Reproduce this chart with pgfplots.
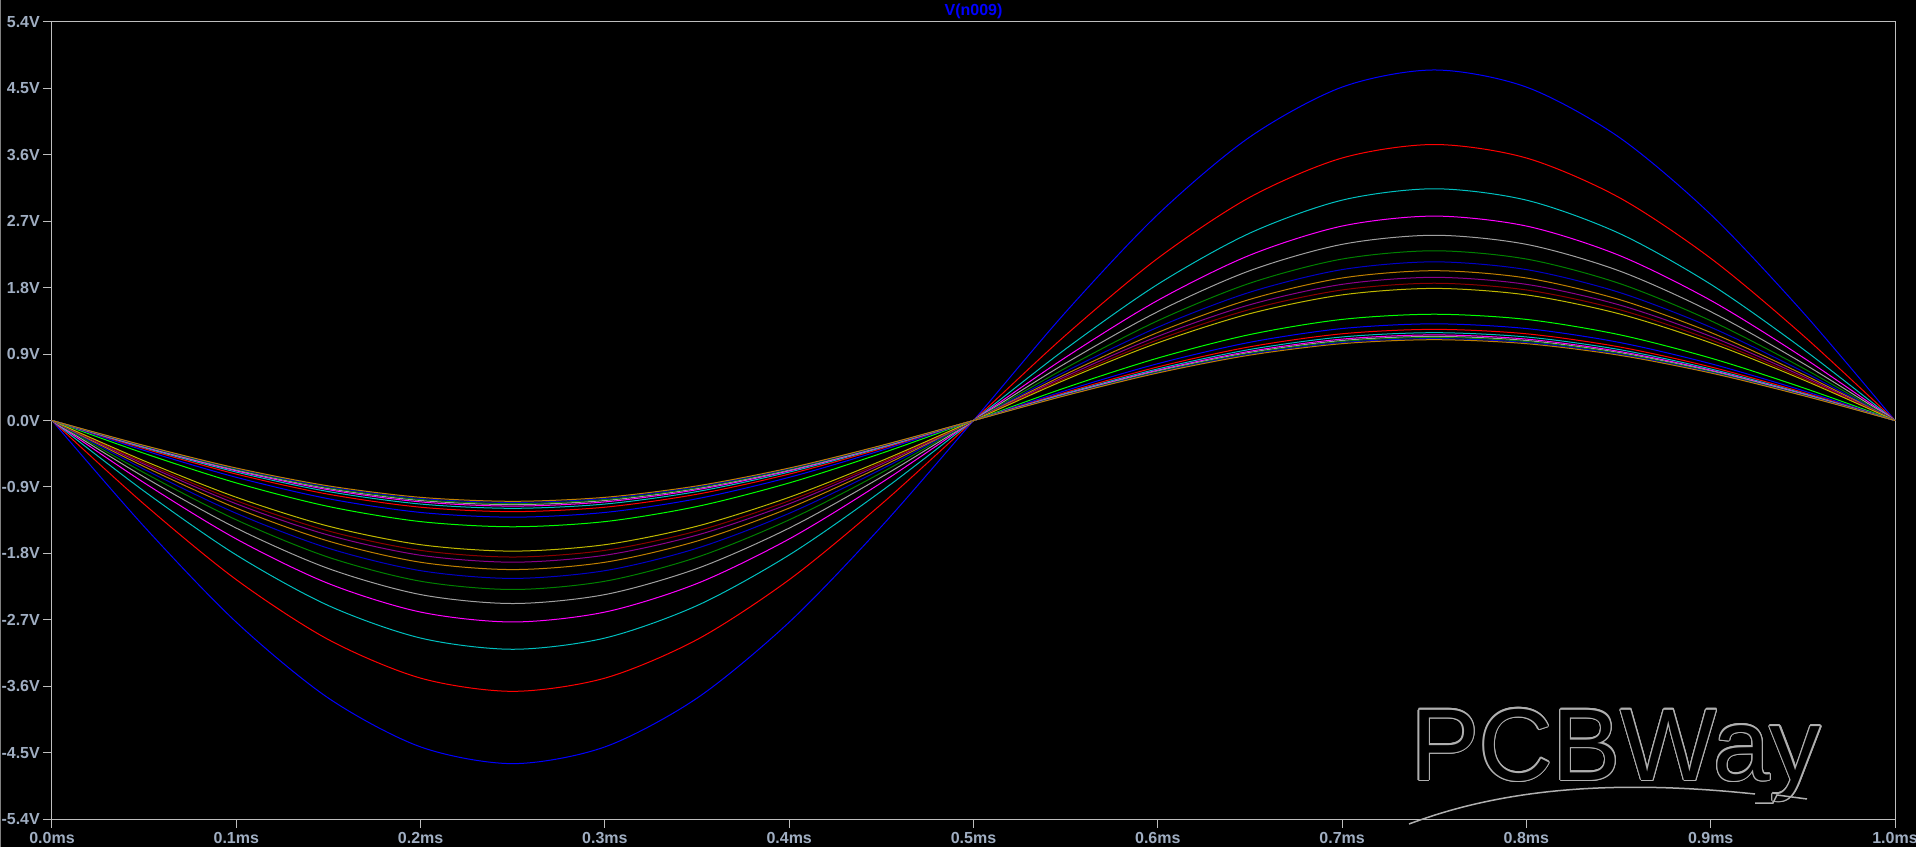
\documentclass[border=0pt]{standalone}
\usepackage{fontspec}
\setmainfont{Liberation Sans}[BoldFont={Liberation Sans Bold}]
\newfontfamily\lblfont{Liberation Sans Bold}
\usepackage{pgfplots}
\usepackage{pgfplotstable}
\usepackage{contour}
\pgfplotsset{compat=1.18}

\definecolor{axisgray}{RGB}{190,190,190}
\definecolor{labelcol}{RGB}{160,174,194}
\definecolor{wmgray}{RGB}{175,175,175}
% LTspice step colours, cycling every 12
\definecolor{col1}{RGB}{0,0,255}
\definecolor{col2}{RGB}{255,0,0}
\definecolor{col3}{RGB}{0,192,192}
\definecolor{col4}{RGB}{255,0,255}
\definecolor{col5}{RGB}{160,160,160}
\definecolor{col6}{RGB}{0,128,0}
\definecolor{col7}{RGB}{0,0,200}
\definecolor{col8}{RGB}{192,128,0}
\definecolor{col9}{RGB}{140,0,140}
\definecolor{col10}{RGB}{140,0,0}
\definecolor{col11}{RGB}{192,184,0}
\definecolor{col12}{RGB}{0,255,0}
\colorlet{col13}{col1}
\colorlet{col14}{col2}
\colorlet{col15}{col3}
\colorlet{col16}{col4}
\colorlet{col17}{col5}
\colorlet{col18}{col6}
\colorlet{col19}{col7}
\colorlet{col20}{col8}

% V(n009) for the 20 stepped runs, t in ms
\pgfplotstableread{
t c1 c2 c3 c4 c5 c6 c7 c8 c9 c10 c11 c12 c13 c14 c15 c16 c17 c18 c19 c20
0.00 0 0 0 0 0 0 0 0 0 0 0 0 0 0 0 0 0 0 0 0
0.05 -1.437 -1.134 -0.958 -0.844 -0.766 -0.708 -0.661 -0.624 -0.593 -0.572 -0.547 -0.445 -0.405 -0.382 -0.368 -0.358 -0.352 -0.348 -0.343 -0.338
0.10 -2.733 -2.157 -1.822 -1.605 -1.458 -1.346 -1.258 -1.187 -1.129 -1.087 -1.040 -0.846 -0.770 -0.726 -0.699 -0.682 -0.670 -0.661 -0.652 -0.644
0.15 -3.762 -2.969 -2.508 -2.209 -2.006 -1.853 -1.731 -1.634 -1.553 -1.497 -1.432 -1.165 -1.060 -0.999 -0.963 -0.938 -0.922 -0.910 -0.898 -0.886
0.20 -4.423 -3.491 -2.948 -2.596 -2.359 -2.178 -2.035 -1.921 -1.826 -1.760 -1.683 -1.370 -1.246 -1.175 -1.132 -1.103 -1.084 -1.070 -1.056 -1.041
0.25 -4.650 -3.670 -3.100 -2.730 -2.480 -2.290 -2.140 -2.020 -1.920 -1.850 -1.770 -1.440 -1.310 -1.235 -1.190 -1.160 -1.140 -1.125 -1.110 -1.095
0.30 -4.423 -3.491 -2.948 -2.596 -2.359 -2.178 -2.035 -1.921 -1.826 -1.760 -1.683 -1.370 -1.246 -1.175 -1.132 -1.103 -1.084 -1.070 -1.056 -1.041
0.35 -3.762 -2.969 -2.508 -2.209 -2.006 -1.853 -1.731 -1.634 -1.553 -1.497 -1.432 -1.165 -1.060 -0.999 -0.963 -0.938 -0.922 -0.910 -0.898 -0.886
0.40 -2.733 -2.157 -1.822 -1.605 -1.458 -1.346 -1.258 -1.187 -1.129 -1.087 -1.040 -0.846 -0.770 -0.726 -0.699 -0.682 -0.670 -0.661 -0.652 -0.644
0.45 -1.437 -1.134 -0.958 -0.844 -0.766 -0.708 -0.661 -0.624 -0.593 -0.572 -0.547 -0.445 -0.405 -0.382 -0.368 -0.358 -0.352 -0.348 -0.343 -0.338
0.50 0 0 0 0 0 0 0 0 0 0 0 0 0 0 0 0 0 0 0 0
0.55 1.468 1.156 0.970 0.856 0.776 0.711 0.664 0.627 0.599 0.575 0.553 0.445 0.405 0.382 0.368 0.358 0.352 0.348 0.343 0.338
0.60 2.792 2.198 1.846 1.628 1.475 1.352 1.264 1.193 1.140 1.093 1.052 0.846 0.770 0.726 0.699 0.682 0.670 0.661 0.652 0.644
0.65 3.843 3.026 2.540 2.241 2.031 1.861 1.739 1.642 1.569 1.505 1.448 1.165 1.060 0.999 0.963 0.938 0.922 0.910 0.898 0.886
0.70 4.518 3.557 2.986 2.635 2.387 2.188 2.045 1.931 1.845 1.769 1.702 1.370 1.246 1.175 1.132 1.103 1.084 1.070 1.056 1.041
0.75 4.750 3.740 3.140 2.770 2.510 2.300 2.150 2.030 1.940 1.860 1.790 1.440 1.310 1.235 1.190 1.160 1.140 1.125 1.110 1.095
0.80 4.518 3.557 2.986 2.635 2.387 2.188 2.045 1.931 1.845 1.769 1.702 1.370 1.246 1.175 1.132 1.103 1.084 1.070 1.056 1.041
0.85 3.843 3.026 2.540 2.241 2.031 1.861 1.739 1.642 1.569 1.505 1.448 1.165 1.060 0.999 0.963 0.938 0.922 0.910 0.898 0.886
0.90 2.792 2.198 1.846 1.628 1.475 1.352 1.264 1.193 1.140 1.093 1.052 0.846 0.770 0.726 0.699 0.682 0.670 0.661 0.652 0.644
0.95 1.468 1.156 0.970 0.856 0.776 0.711 0.664 0.627 0.599 0.575 0.553 0.445 0.405 0.382 0.368 0.358 0.352 0.348 0.343 0.338
1.00 0 0 0 0 0 0 0 0 0 0 0 0 0 0 0 0 0 0 0 0
}\datatable

\begin{document}
\begin{tikzpicture}
\path[use as bounding box, fill=black] (-52pt,-28pt) rectangle (1864pt,819pt);
\fill[gray] (-52pt,-28pt) rectangle (-50.5pt,819pt);
\begin{axis}[
    scale only axis,
    width=1843pt, height=797pt,
    xmin=0, xmax=1, ymin=-5.4, ymax=5.4,
    axis line style={draw=axisgray, line width=1pt},
    tick style={draw=axisgray, line width=1pt},
    tick align=outside,
    xtick pos=left, ytick pos=left,
    major tick length=9pt,
    xtick={0,0.1,0.2,0.3,0.4,0.5,0.6,0.7,0.8,0.9,1},
    xticklabels={0.0ms,0.1ms,0.2ms,0.3ms,0.4ms,0.5ms,0.6ms,0.7ms,0.8ms,0.9ms,1.0ms},
    ytick={-5.4,-4.5,-3.6,-2.7,-1.8,-0.9,0,0.9,1.8,2.7,3.6,4.5,5.4},
    yticklabels={-5.4V,-4.5V,-3.6V,-2.7V,-1.8V,-0.9V,0.0V,0.9V,1.8V,2.7V,3.6V,4.5V,5.4V},
    every tick label/.append style={font=\lblfont\fontsize{16}{16}\selectfont, text=labelcol, inner sep=0pt},
    yticklabel style={anchor=east, xshift=-3pt},
    xticklabel style={anchor=base, yshift=-15.5pt},
    every axis plot/.append style={line width=1pt, smooth},
    clip=true,
]
\pgfplotsinvokeforeach{1,...,20}{
  \addplot[col#1] table[x=t, y=c#1] {\datatable};
}
\end{axis}
\node[anchor=base, inner sep=0pt, text=blue, font=\lblfont\fontsize{16}{16}\selectfont]
  at (921.5pt,803pt) {V(n009)};
% PCBWay watermark
\contourlength{1.1pt}
\node[anchor=base, inner sep=0pt, font=\fontsize{102}{102}\selectfont]
  at (1564pt,39pt) {\contour{wmgray}{\textcolor{black}{PCBWay}}};
\draw[wmgray, line width=1.5pt] (1357pt,-5pt) .. controls (1450pt,30pt) and (1560pt,40pt) .. (1703pt,25pt);
\draw[wmgray, line width=1.5pt] (1703pt,16pt) -- (1721pt,16pt) -- (1725pt,24pt) -- (1755pt,20pt);
\end{tikzpicture}
\end{document}
